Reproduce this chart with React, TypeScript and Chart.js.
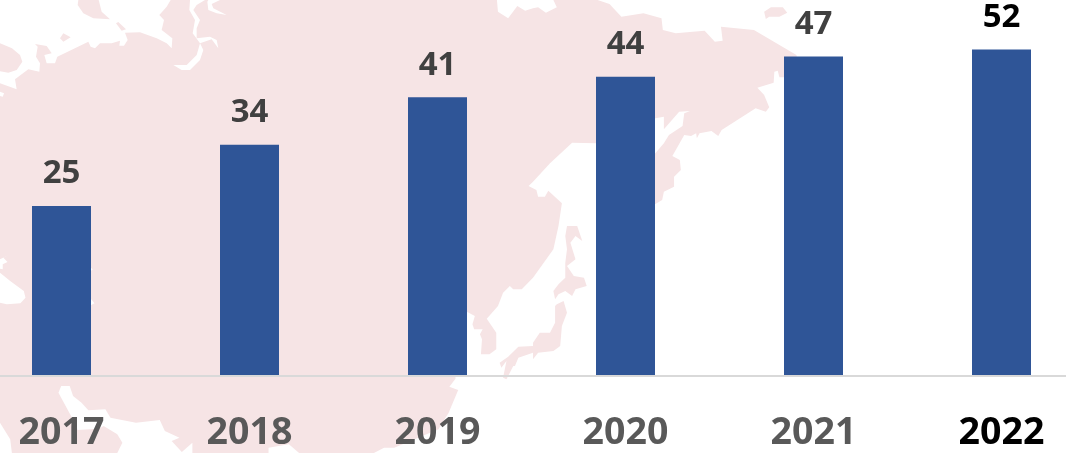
import React, { useEffect, useRef } from "react";
import { Chart, registerables } from "chart.js";

Chart.register(...registerables);

const years = ["2017", "2018", "2019", "2020", "2021", "2022"];
// Bar heights as drawn in the picture; the last bar is drawn shorter than its printed label.
const barHeights = [25, 34, 41, 44, 47, 48];
const printedLabels = ["25", "34", "41", "44", "47", "52"];
const labelColors = ["#404040", "#404040", "#404040", "#404040", "#404040", "#000000"];
const tickColors = ["#595959", "#595959", "#595959", "#595959", "#595959", "#000000"];

// The plot runs past the window on both sides, so the canvas is wider and shifted left.
const CANVAS_SHIFT = 33;
const CANVAS_WIDTH = 1129;

// Decorative background map, traced as outlines (not data).
type P = number[];
const conv = (pts: P, ox: number, oy: number, sx: number, sy: number) => {
  const out: [number, number][] = [];
  for (let i = 0; i < pts.length; i += 2) out.push([ox + pts[i] / sx, oy + pts[i + 1] / sy]);
  return out;
};
const SX = 2.942;
const z1 = (p: P) => conv(p, 0, 0, SX, 3);
const z2 = (p: P) => conv(p, 533, 0, SX, 3);
const z3 = (p: P) => conv(p, 0, 226, SX, 3);
const z4 = (p: P) => conv(p, 533, 226, SX, 3);
const z5 = (p: P) => conv(p, 0, 0, 3, 3);

const mainland = [
  ...z5([0,250,50,268,45,238,85,208,118,215,120,190,108,170,113,140,105,132,140,138,155,160,133,165,140,190,165,190,172,170,265,125,272,140,285,145,300,130,335,130,360,122,358,137,372,137,383,120,375,98,420,97,470,115,500,130,515,145,517,115,485,90,492,60,478,45,500,20,512,0]),
  ...z1([1462,0,1465,35,1495,55,1522,18,1545,32,1568,25]),
  ...z2([15,22,38,38,70,22,60,0,190,0,225,12,260,50,325,40,378,55,382,90,420,100,470,95,505,92,535,125,558,122,553,80,650,90,775,165,790,232,725,232,720,212,710,215,708,248,660,263,680,285,695,322,685,335,655,325,555,390,545,408,525,393,490,400,482,415,480,400,465,408,445,405,410,468,432,480,435,510,415,530,415,560,385,575,380,600,360,612,300,612,300,460,360,460,385,430,400,405,440,378,445,340,462,333,430,335,385,388,385,350,360,355,300,400,185,430,115,428,50,490,0,545]),
  ...z1([1555,558,1568,565]),
  ...z2([10,570,15,590,35,590,45,572,85,610,75,678]),
  ...z4([75,0,60,70,0,155]),
  ...z3([1568,155,1535,190,1510,190,1500,180,1480,200,1465,240,1432,278,1460,320,1460,370,1440,385,1415,385,1418,340,1412,325,1420,310,1395,310,1390,295,1397,270,1375,258,1340,300,1340,458,1322,482,1348,492,1320,560,1290,610,1160,665,1130,665,1100,681,880,681,850,655,790,665,790,681,566,681,566,650,535,678,505,645,528,635,485,615,470,582,400,590,325,575,310,550,260,553,240,530,215,510,205,480,180,480,172,500,225,600,228,612,290,608,305,600,345,625,360,650,345,681,35,681,30,640,0,590]),
];
const pinkShapes = [
  mainland,
  z5([0,130,36,145,60,165,67,185,50,210,25,218,0,214]),
  z5([235,0,233,15,250,40,280,55,330,58,305,35,296,0]),
  z5([180,115,190,100,212,112,190,125]),
  z5([348,70,355,66,378,88,365,92]),
  z2([680,35,700,22,735,22,748,38,725,50,695,50,685,57]),
  z4([95,30,100,0,130,0,145,45,125,30,110,50,125,100,100,120,120,150,150,155,158,180,125,190,115,210,95,195,75,205,65,220,60,195,75,175,95,155,95,110,100,70]),
  z4([70,235,90,225,100,260,85,300,80,360,60,375,15,380,0,400,0,350,20,320,50,320,65,290,65,240]),
  z3([1568,360,1525,362,1495,392,1470,410,1475,425,1490,405,1480,455,1490,460,1510,420,1515,420,1525,395,1568,380]),
];
const whiteShapes = [
  z5([570,0,568,30,585,60,578,100,600,130,590,165,560,195,520,195,545,210,570,210,600,180,610,150,600,130,635,118,655,145,650,120,630,110,590,115,590,85,600,60,580,30,590,15,615,0]),
  z5([622,5,625,30,650,40,680,45,640,25,635,12,660,0,625,0]),
  z3([0,140,30,165,70,195,75,215,60,232,20,235,0,230]),
  z3([0,100,30,85,10,95,22,108,8,115,8,130,0,128]),
  z3([267,125,273,130,267,135]),
  z3([267,218,278,232,267,238]),
  z1([0,275,12,280,8,290,0,288]),
];

const mapPlugin = {
  id: "mapBackground",
  beforeDraw(chart: any) {
    const { ctx, width, height } = chart;
    ctx.save();
    ctx.fillStyle = "#ffffff";
    ctx.fillRect(0, 0, width, height);
    ctx.translate(CANVAS_SHIFT, 0);
    const fill = (shape: [number, number][], color: string) => {
      ctx.fillStyle = color;
      ctx.beginPath();
      shape.forEach(([x, y], i) => (i ? ctx.lineTo(x, y) : ctx.moveTo(x, y)));
      ctx.closePath();
      ctx.fill();
    };
    pinkShapes.forEach((s) => fill(s, "#f6e4e5"));
    whiteShapes.forEach((s) => fill(s, "#ffffff"));
    ctx.restore();
  },
};

const labelPlugin = {
  id: "printedLabels",
  afterDatasetsDraw(chart: any) {
    const { ctx } = chart;
    ctx.save();
    ctx.font = "700 33px 'Open Sans'";
    ctx.textAlign = "center";
    ctx.textBaseline = "middle";
    chart.getDatasetMeta(0).data.forEach((bar: any, i: number) => {
      ctx.fillStyle = labelColors[i];
      ctx.fillText(printedLabels[i], bar.x, bar.y - 32);
    });
    ctx.restore();
  },
};

export default function App() {
  const ref = useRef<HTMLCanvasElement>(null);
  useEffect(() => {
    const chart = new Chart(ref.current!, {
      type: "bar",
      data: {
        labels: years,
        datasets: [
          {
            data: barHeights,
            backgroundColor: "#2f5597",
            barPercentage: 59 / 188,
            categoryPercentage: 1,
          },
        ],
      },
      options: {
        animation: false,
        responsive: false,
        layout: { padding: { left: 0.5, right: 0.5, top: 0, bottom: 0 } },
        plugins: { legend: { display: false }, tooltip: { enabled: false } },
        scales: {
          x: {
            grid: { display: false },
            border: { color: "#d9d9d9", width: 2, z: 1 },
            ticks: {
              padding: 27,
              maxRotation: 0,
              autoSkip: false,
              color: (c: any) => tickColors[c.index],
              font: { family: "'Open Sans'", weight: 700, size: 37.5 },
            },
            afterFit: (s: any) => {
              s.height = 77;
            },
          },
          y: { display: false, min: 0, max: 55.29 },
        },
      },
      plugins: [mapPlugin, labelPlugin],
    } as any);
    return () => chart.destroy();
  }, []);
  return (
    <div style={{ position: "absolute", left: 0, top: 0, width: 1066, height: 453, overflow: "hidden" }}>
      <canvas
        ref={ref}
        width={CANVAS_WIDTH}
        height={453}
        style={{ display: "block", position: "absolute", left: -CANVAS_SHIFT, top: 0 }}
      />
    </div>
  );
}
